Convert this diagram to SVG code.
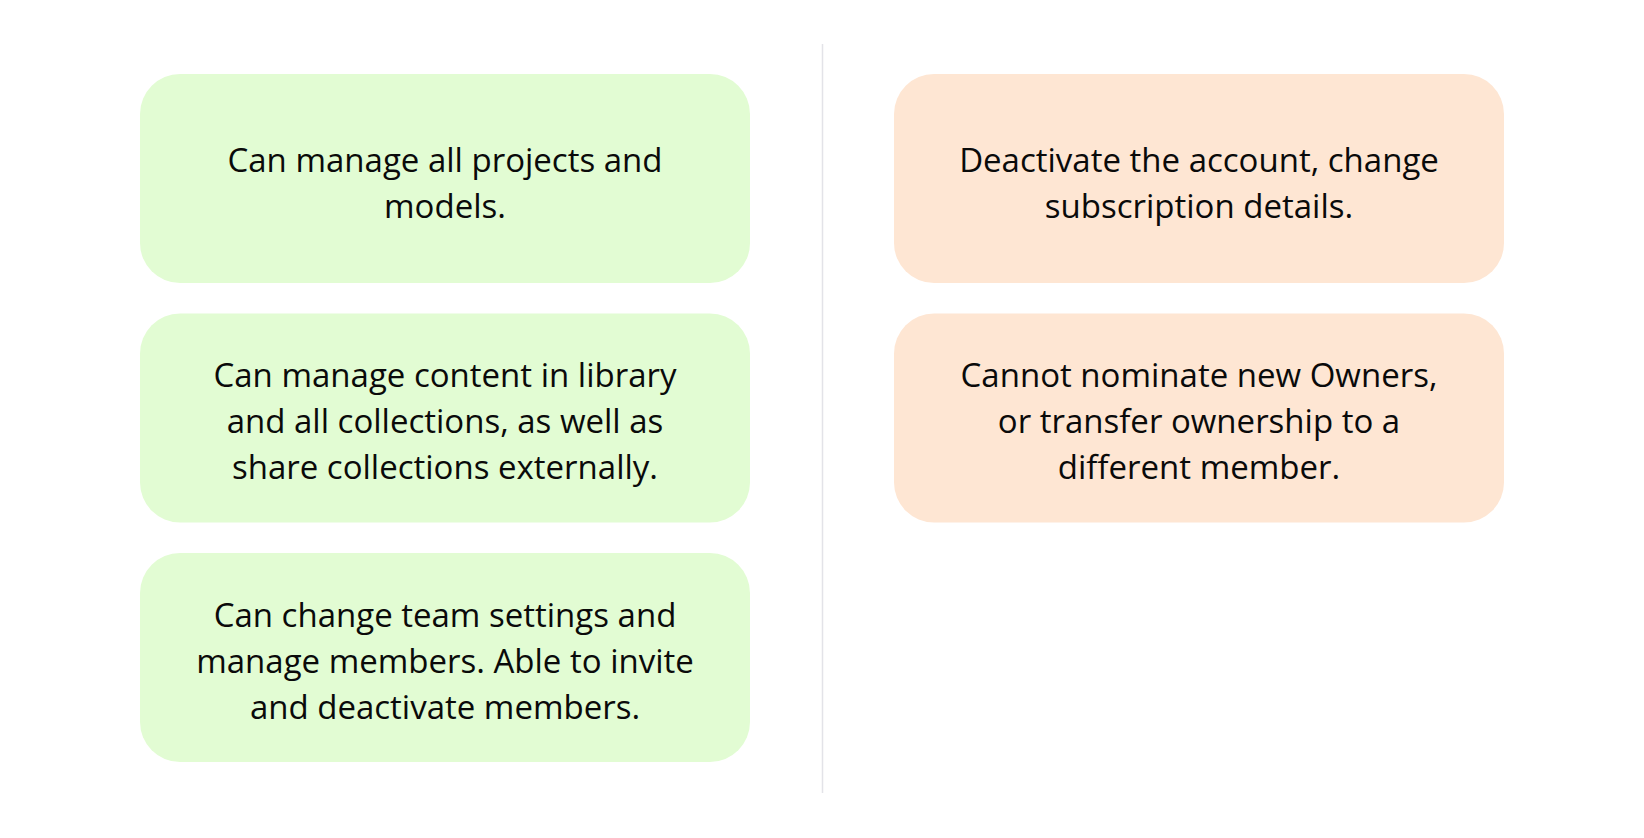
<svg xmlns="http://www.w3.org/2000/svg" width="1644" height="838" viewBox="0 0 1644 838">
<style>
.g{fill:#e2fcd3}
.o{fill:#fee6d3}
text{font-family:"Open Sans","Noto Sans",sans-serif;font-size:33px;fill:#0a0a0a;text-anchor:middle}
</style>
<rect width="1644" height="838" fill="#ffffff"/>
<g id="connectors">
<line x1="822.5" y1="44" x2="822.5" y2="793" stroke="#e3e3e8" stroke-width="1.5"/>
</g>
<g id="node-g1">
<rect class="g" x="140" y="74" width="610" height="209" rx="40"/>
<text x="445" y="172">Can manage all projects and</text>
<text x="445" y="218">models.</text>
</g>
<g id="node-g2">
<rect class="g" x="140" y="313.5" width="610" height="209" rx="40"/>
<text x="445" y="387">Can manage content in library</text>
<text x="445" y="433">and all collections, as well as</text>
<text x="445" y="479">share collections externally.</text>
</g>
<g id="node-g3">
<rect class="g" x="140" y="553" width="610" height="209" rx="40"/>
<text x="445" y="627">Can change team settings and</text>
<text x="445" y="673">manage members. Able to invite</text>
<text x="445" y="719">and deactivate members.</text>
</g>
<g id="node-o1">
<rect class="o" x="894" y="74" width="610" height="209" rx="40"/>
<text x="1199" y="172">Deactivate the account, change</text>
<text x="1199" y="218">subscription details.</text>
</g>
<g id="node-o2">
<rect class="o" x="894" y="313.5" width="610" height="209" rx="40"/>
<text x="1199" y="387">Cannot nominate new Owners,</text>
<text x="1199" y="433">or transfer ownership to a</text>
<text x="1199" y="479">different member.</text>
</g>
</svg>
